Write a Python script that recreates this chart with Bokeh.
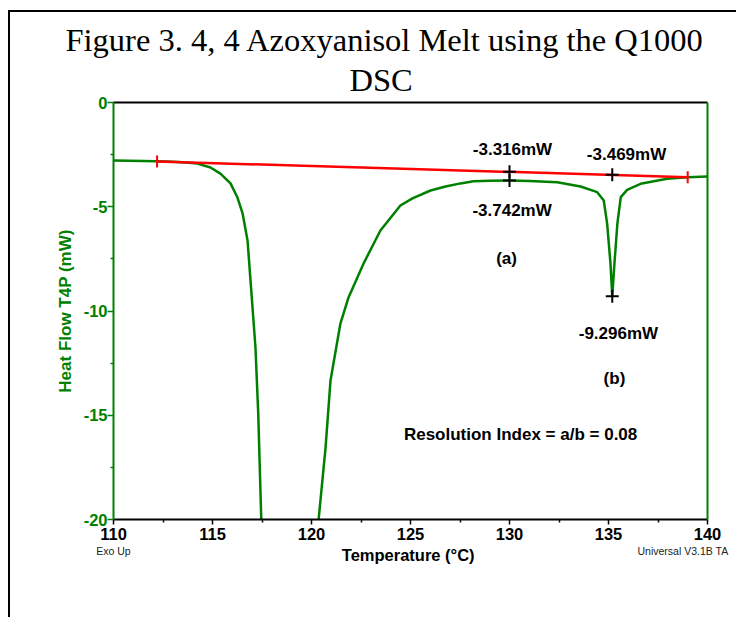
import math
from bokeh.plotting import figure
from bokeh.models import Label, LinearAxis, FixedTicker, Range1d, CustomJSTickFormatter, Title
from bokeh.embed import file_html
from bokeh.resources import INLINE

nan = float("nan")

# DSC curve; NaN marks the part below the axis range
temperature = [110.0, 111.5, 112.73, 113.5, 114.24, 114.90, 115.40, 115.91, 116.26,
               116.52, 116.77, 116.92, 117.17, 117.31, 117.46, 117.50, nan,
               120.33, 120.37, 120.71, 120.96, 121.46, 121.87, 122.63, 123.48, 124.49,
               125.10, 126.01, 126.77, 127.53, 128.18, 129.0, 130.0, 131.0, 132.41,
               133.59, 134.43, 134.76, 134.93, 135.10, 135.19, 135.30, 135.45, 135.62,
               135.94, 136.62, 137.96, 139.0, 140.0]
heat_flow = [-2.78, -2.80, -2.83, -2.87, -2.93, -3.12, -3.41, -3.88, -4.56,
             -5.32, -6.62, -8.54, -11.75, -14.92, -19.90, -20.5, nan,
             -20.5, -19.90, -16.55, -13.33, -10.60, -9.35, -7.72, -6.14, -4.94,
             -4.60, -4.22, -4.03, -3.88, -3.78, -3.75, -3.742, -3.76, -3.82,
             -4.03, -4.30, -4.70, -5.80, -7.72, -9.296, -7.72, -5.80, -4.54,
             -4.19, -3.90, -3.66, -3.58, -3.55]

# baseline (red) and cursor markers
baseline_temperature = [112.2, 139.0]
baseline_heat_flow = [-2.83, -3.58]
marker_temperature = [130.0, 130.0, 135.19, 135.19]
marker_heat_flow = [-3.316, -3.742, -3.469, -9.296]

# ticks
x_major_ticks = [110, 115, 120, 125, 130, 135, 140]
x_minor_ticks = [112.5, 117.5, 122.5, 127.5, 132.5, 137.5]
y_major_ticks = [0, -5, -10, -15, -20]
y_tick_labels = ["0", "-5", "-10", "-15", "-20"]
y_minor_ticks = [-2.5, -7.5, -12.5, -17.5]

# footer notes under the x axis (placed at these temperatures)
footer_ticks = [110.0, 138.76]
footer_texts = ["Exo Up", "Universal V3.1B TA"]

GREEN = "#008000"
SANS = "Liberation Sans"

p = figure(width=728, height=607, x_range=Range1d(110, 140), y_range=Range1d(-20, 0),
           output_backend="svg", toolbar_location=None,
           min_border_left=103, min_border_right=31, min_border_top=90, min_border_bottom=100,
           y_axis_label="Heat Flow T4P (mW)")
p.title = None
p.grid.visible = False
p.outline_line_color = None
p.background_fill_color = "white"
p.border_fill_color = "white"
p.styles = {"margin-left": "8px", "margin-top": "10px",
            "border-left": "2px solid black", "border-top": "2px solid black"}

xa = p.xaxis[0]
xa.ticker = FixedTicker(ticks=x_major_ticks, minor_ticks=x_minor_ticks)
xa.axis_line_color = "black"
xa.axis_line_width = 2
xa.major_tick_line_color = "black"
xa.major_tick_line_width = 1.5
xa.major_tick_in = 0
xa.major_tick_out = 5
xa.minor_tick_line_color = "black"
xa.minor_tick_line_width = 1.5
xa.minor_tick_in = 0
xa.minor_tick_out = 3
xa.major_label_standoff = 3
xa.major_label_text_font = SANS
xa.major_label_text_font_style = "bold"
xa.major_label_text_font_size = "16.5px"
xa.major_label_text_color = "black"

# second bottom axis: footer notes as its labels, x-axis title as its label
foot = LinearAxis(ticker=FixedTicker(ticks=footer_ticks, minor_ticks=[]),
                  formatter=CustomJSTickFormatter(
                      args=dict(texts=footer_texts),
                      code="return tick < 125 ? texts[0] : texts[1];"),
                  axis_line_color=None, major_tick_out=0, minor_tick_out=0,
                  major_tick_in=0, minor_tick_in=0, major_label_standoff=2,
                  major_label_text_font=SANS, major_label_text_font_style="normal",
                  major_label_text_font_size="10.5px", major_label_text_color="#222222",
                  axis_label="Temperature  (°C)", axis_label_text_font=SANS,
                  axis_label_text_font_style="bold", axis_label_text_font_size="16.5px",
                  axis_label_text_color="black", axis_label_standoff=-14)
p.add_layout(foot, "below")

ya = p.yaxis[0]
ya.ticker = FixedTicker(ticks=y_major_ticks, minor_ticks=y_minor_ticks)
ya.major_label_overrides = dict(zip(y_major_ticks, y_tick_labels))
ya.axis_line_color = GREEN
ya.axis_line_width = 2
ya.major_tick_line_color = GREEN
ya.major_tick_line_width = 1.5
ya.major_tick_in = 0
ya.major_tick_out = 6
ya.minor_tick_line_color = GREEN
ya.minor_tick_line_width = 1.5
ya.minor_tick_in = 0
ya.minor_tick_out = 3
ya.major_label_standoff = 0
ya.major_label_text_font = SANS
ya.major_label_text_font_style = "bold"
ya.major_label_text_font_size = "16.5px"
ya.major_label_text_color = GREEN
ya.axis_label_text_font = SANS
ya.axis_label_text_font_style = "bold"
ya.axis_label_text_font_size = "17px"
ya.axis_label_text_color = GREEN
ya.axis_label_standoff = 6

top_axis = LinearAxis(ticker=FixedTicker(ticks=[]), axis_line_color="black", axis_line_width=2,
                      major_tick_out=0, minor_tick_out=0, major_tick_in=0, minor_tick_in=0)
right_axis = LinearAxis(ticker=FixedTicker(ticks=[]), axis_line_color=GREEN, axis_line_width=2,
                        major_tick_out=0, minor_tick_out=0, major_tick_in=0, minor_tick_in=0)
p.add_layout(top_axis, "above")
p.add_layout(right_axis, "right")

# two-line title (second line nearer the plot)
title_font = dict(text_font="Liberation Serif", text_font_style="normal",
                  text_font_size="32.5px", text_color="black", align="left")
p.add_layout(Title(text="DSC", offset=236, standoff=9, **title_font), "above")
p.add_layout(Title(text="Figure 3. 4, 4 Azoxyanisol Melt using the Q1000", offset=-48,
                   standoff=-5, **title_font), "above")

p.line(temperature, heat_flow, line_color=GREEN, line_width=2.5)
p.line(baseline_temperature, baseline_heat_flow, line_color="#ff0000", line_width=2.5)
p.scatter(baseline_temperature, baseline_heat_flow, marker="dash", angle=math.pi / 2,
          size=12, line_color="#ff0000", line_width=2)
p.scatter(marker_temperature, marker_heat_flow, marker="cross", size=13,
          line_color="black", line_width=2)


def add_label(x, y, text, size="17px"):
    p.add_layout(Label(x=x, y=y, text=text, text_font=SANS, text_font_style="bold",
                       text_font_size=size, text_align="center", text_baseline="middle",
                       text_color="black"))


# annotations
add_label(130.15, -2.25, "-3.316mW")
add_label(135.91, -2.49, "-3.469mW")
add_label(130.13, -5.18, "-3.742mW")
add_label(129.85, -7.48, "(a)")
add_label(135.5, -11.08, "-9.296mW")
add_label(135.3, -13.24, "(b)")
add_label(130.56, -15.92, "Resolution Index = a/b = 0.08")

open("out.html", "w").write(file_html(p, INLINE))
